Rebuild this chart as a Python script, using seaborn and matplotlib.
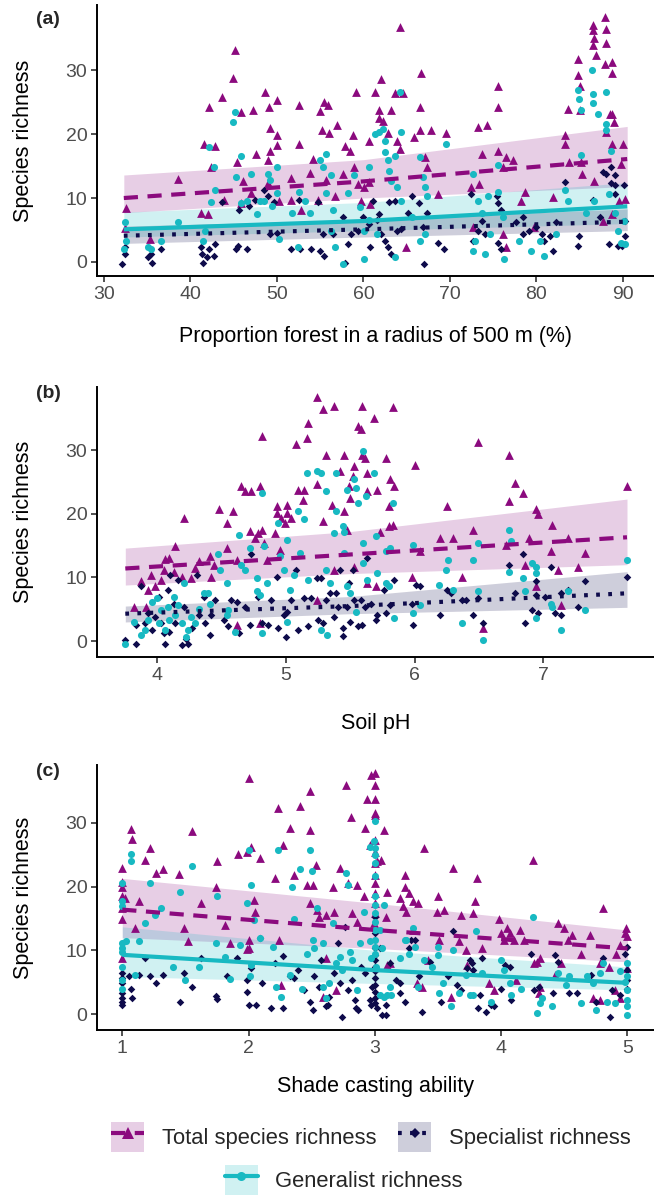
import numpy as np
import matplotlib
matplotlib.use("Agg")
import matplotlib.pyplot as plt
from matplotlib.lines import Line2D
from matplotlib.patches import Patch
from matplotlib.legend_handler import HandlerTuple
import seaborn as sns

# ---------------- data ----------------
# panel a: proportion forest (%) vs richness
a_total = [(32.5, 8.5), (32.4, 5.3), (35.3, 3.6), (38.6, 12.9), (41.6, 18.5), (42.2, 24.3), (42.8, 18.1),
           (42.0, 7.5), (42.4, 14.8), (43.6, 25.8), (44.9, 28.8), (45.2, 33.1), (45.4, 15.6), (45.8, 23.5),
           (46.1, 12.7), (47.2, 23.8), (47.6, 16.9), (48.6, 26.6), (49.2, 21.0), (49.1, 24.3), (49.2, 17.4),
           (49.0, 16.0), (50.0, 25.3), (50.0, 19.9), (50.0, 18.3), (50.3, 9.6), (51.6, 13.2), (52.6, 24.5),
           (52.6, 18.5), (54.2, 16.1), (53.8, 13.9), (55.0, 23.6), (55.2, 20.6), (55.4, 25.0), (55.9, 24.5),
           (56.0, 20.1), (56.9, 21.4), (57.7, 13.8), (57.9, 18.2), (58.4, 17.4), (58.8, 19.8), (59.1, 26.6),
           (58.9, 14.8), (59.4, 12.2), (60.6, 19.0), (60.6, 12.5), (61.3, 26.6), (61.8, 23.8), (62.0, 28.7),
           (61.8, 22.5), (62.3, 22.1), (62.8, 20.1), (63.2, 23.8), (63.7, 26.4), (64.2, 36.8), (63.9, 19.0),
           (64.2, 17.7), (64.6, 26.4), (64.9, 2.3), (65.9, 19.5), (66.5, 24.2), (66.7, 29.6), (66.5, 20.6),
           (67.1, 16.4), (67.4, 14.8), (67.8, 20.6), (68.6, 10.6), (69.5, 20.1), (73.2, 21.1), (73.7, 16.9),
           (73.4, 12.2), (74.3, 21.4), (72.4, 11.7), (72.7, 5.4), (75.6, 27.6), (75.6, 24.2), (75.6, 17.4),
           (76.5, 16.4), (77.3, 15.9), (76.5, 2.3), (76.1, 4.3), (78.7, 10.9), (78.2, 9.6), (79.7, 5.4),
           (81.9, 10.1), (83.3, 19.8), (83.3, 18.5), (83.6, 24.0), (83.8, 15.6), (84.8, 31.8), (84.8, 29.2),
           (85.0, 27.6), (85.0, 23.7), (85.2, 15.6), (85.3, 13.8), (86.5, 37.1), (86.5, 36.3), (86.7, 35.0),
           (86.6, 34.0), (86.9, 32.3), (87.9, 38.4), (88.0, 36.5), (88.0, 34.3), (87.9, 31.0), (88.8, 31.3),
           (88.8, 29.5), (88.8, 23.2), (88.5, 23.2), (89.0, 21.9), (88.8, 18.5), (90.0, 18.5), (88.1, 20.4),
           (89.8, 15.4), (86.7, 12.7), (89.6, 9.6), (90.3, 9.9), (87.7, 6.4), (88.7, 7.5), (76.1, 14.8),
           (59.7, 9.6), (60.8, 9.0), (60.1, 11.7), (55.7, 12.8), (56.7, 10.3), (54.8, 9.7), (52.8, 8.1),
           (51.6, 9.7), (49.0, 12.4), (47.0, 10.8), (45.9, 9.2), (43.9, 9.7), (41.2, 7.6)]
a_generalist = [(32.4, 6.2), (32.5, 3.3), (32.3, 2.0), (35.1, 2.3), (35.4, 2.0), (36.6, 3.3), (38.6, 6.2),
                (41.7, 4.9), (41.5, 3.3), (42.2, 18.0), (42.7, 14.9), (42.9, 11.2), (42.4, 9.4), (45.1, 23.5),
                (44.9, 21.9), (45.8, 16.6), (45.3, 13.3), (45.8, 9.2), (46.5, 9.5), (47.0, 13.8), (47.7, 7.5),
                (48.5, 9.5), (49.0, 13.8), (49.2, 12.8), (50.0, 14.9), (49.4, 8.8), (50.0, 10.8), (50.3, 3.6),
                (51.8, 7.6), (52.6, 10.9), (53.8, 7.6), (52.4, 2.3), (55.0, 15.9), (55.3, 14.9), (55.7, 16.9),
                (56.2, 13.6), (55.7, 10.8), (56.5, 8.1), (56.2, 4.9), (56.7, 2.3), (57.7, -0.4), (58.2, 10.8),
                (58.9, 13.6), (59.6, 8.6), (60.1, 0.4), (60.6, 14.9), (61.3, 20.0), (61.8, 20.3), (62.3, 20.8),
                (62.5, 17.2), (62.5, 19.0), (62.8, 15.9), (63.0, 14.3), (63.2, 12.7), (63.7, 16.6), (64.2, 26.6),
                (64.3, 20.3), (63.7, 0.7), (63.9, 11.7), (64.4, 9.6), (65.6, 7.0), (66.6, 16.4), (66.9, 13.3),
                (67.1, 11.7), (67.4, 10.3), (66.6, 3.3), (67.1, 4.3), (69.5, 18.5), (72.7, 13.8), (73.2, 9.6),
                (72.7, 1.7), (72.9, 3.3), (73.7, 7.6), (74.4, 10.3), (74.1, 1.2), (74.6, 4.3), (75.6, 15.1),
                (75.6, 10.9), (76.1, 7.1), (76.3, 0.4), (78.0, 3.3), (79.4, 1.7), (80.4, 3.3), (80.9, 0.9),
                (82.3, 4.3), (83.3, 11.2), (83.6, 9.6), (84.8, 26.9), (84.9, 25.5), (85.2, 23.8), (85.2, 16.7),
                (86.4, 30.0), (86.5, 26.3), (86.5, 24.9), (87.1, 23.2), (88.1, 26.6), (88.1, 21.6), (88.1, 20.6),
                (88.6, 17.4), (88.4, 10.6), (89.1, 7.6), (89.4, 4.9), (89.8, 3.0), (90.3, 2.8), (90.1, 6.4),
                (86.7, 9.5), (85.7, 7.6), (48.0, 9.5), (53.3, 9.5), (60.6, 6.5), (61.6, 4.3), (60.1, 4.9)]
a_specialist = [(32.1, -0.4), (32.4, 1.2), (32.4, 2.3), (35.4, 1.2), (35.6, -0.1), (35.1, 0.7), (36.6, 2.0),
                (41.2, 2.3), (41.3, 1.2), (41.5, -0.1), (41.9, 0.7), (42.2, 2.0), (42.9, 2.8), (42.7, 1.0),
                (43.6, 9.4), (45.3, 2.0), (45.5, 2.5), (46.5, 2.0), (45.6, 8.1), (46.8, 8.8), (47.5, 9.7),
                (48.5, 11.3), (49.0, 10.3), (49.2, 4.3), (49.7, 9.4), (50.0, 4.6), (51.6, 2.0), (52.6, 9.7),
                (52.7, 2.0), (54.0, 2.0), (54.8, 9.4), (55.0, 1.7), (55.5, 1.0), (55.3, 4.3), (56.5, 4.3),
                (58.2, 2.8), (58.6, 4.3), (57.9, -0.1), (57.7, 7.0), (59.4, 4.9), (59.9, 7.0), (60.6, 6.0),
                (60.8, 2.3), (61.1, 9.6), (61.6, 6.5), (61.8, 7.5), (62.0, 4.3), (62.5, 3.3), (62.8, 2.3),
                (63.0, 9.4), (63.2, 1.2), (63.7, 9.6), (63.9, 4.9), (64.4, 5.2), (65.1, 7.6), (65.6, 10.3),
                (66.4, 9.2), (66.9, 5.5), (67.0, -0.4), (67.4, 7.6), (68.6, 3.0), (69.3, 2.0), (72.4, 10.6),
                (72.7, 3.3), (73.2, 4.9), (73.7, 6.4), (74.1, 4.3), (75.4, 10.3), (75.6, 9.2), (75.9, 8.1),
                (75.6, 3.0), (75.9, 2.0), (77.7, 6.2), (78.5, 7.0), (79.2, 4.9), (79.9, 5.4), (80.7, 4.3),
                (80.9, 3.3), (81.9, 1.7), (81.6, 4.0), (82.3, 6.2), (83.3, 12.5), (84.9, 4.0), (84.8, 2.5),
                (86.5, 9.7), (87.3, 7.1), (87.7, 14.0), (88.1, 13.8), (88.6, 14.9), (89.1, 13.6), (88.6, 12.3),
                (89.1, 12.1), (89.1, 10.6), (90.1, 12.1), (90.3, 6.4), (90.2, 4.0), (88.4, 2.8), (89.4, 2.5),
                (89.9, 2.5), (78.5, 4.3)]

# panel b: soil pH vs richness
b_total = [(3.82, 5.4), (3.87, 9.4), (3.91, 5.4), (3.93, 8.0), (3.98, 8.6), (3.95, 10.4), (4.03, 9.6),
           (4.05, 11.2), (4.06, 12.9), (4.09, 13.0), (4.14, 14.9), (4.13, 10.9), (4.19, 10.1), (4.21, 19.3),
           (4.26, 9.9), (4.29, 11.5), (4.32, 12.5), (4.41, 13.3), (4.42, 10.1), (4.44, 12.0), (4.48, 20.7),
           (4.54, 18.5), (4.54, 14.6), (4.59, 20.4), (4.62, 12.8), (4.65, 24.3), (4.68, 23.5), (4.72, 17.3),
           (4.73, 23.5), (4.76, 16.2), (4.78, 17.0), (4.80, 24.3), (4.81, 32.2), (4.81, 17.5), (4.83, 15.4),
           (4.85, 12.8), (4.93, 21.2), (4.93, 20.1), (4.96, 19.3), (4.99, 18.5), (5.01, 21.4), (5.01, 20.1),
           (4.91, 17.0), (4.95, 14.3), (5.04, 19.3), (5.08, 30.9), (5.09, 23.8), (5.13, 22.2), (5.14, 23.8),
           (5.16, 31.9), (5.17, 34.3), (5.24, 38.3), (5.24, 24.6), (5.29, 36.4), (5.31, 29.3), (5.29, 18.8),
           (5.36, 21.4), (5.37, 36.9), (5.42, 26.7), (5.45, 29.3), (5.45, 20.4), (5.47, 17.5), (5.49, 24.3),
           (5.50, 22.5), (5.52, 25.9), (5.53, 27.5), (5.56, 33.8), (5.58, 33.3), (5.59, 36.9), (5.59, 29.3),
           (5.61, 28.8), (5.63, 23.5), (5.63, 26.4), (5.68, 35.1), (5.71, 23.8), (5.73, 17.2), (5.78, 28.8),
           (5.81, 25.4), (5.83, 36.7), (5.80, 21.2), (5.83, 18.3), (5.80, 18.0), (5.84, 24.3), (5.98, 10.1),
           (6.00, 27.7), (6.04, 14.1), (6.20, 16.2), (6.25, 21.2), (6.30, 16.2), (6.37, 10.1), (6.45, 17.5),
           (6.49, 31.2), (6.53, 2.0), (6.73, 22.0), (6.73, 29.3), (6.78, 24.9), (6.84, 23.3), (6.89, 16.2),
           (6.86, 12.0), (6.94, 20.7), (6.96, 19.9), (6.94, 8.6), (7.07, 18.3), (7.06, 14.1), (7.11, 11.2),
           (7.14, 5.7), (7.19, 16.2), (7.27, 11.7), (7.32, 13.8), (7.65, 24.3), (6.71, 15.1), (5.53, 11.7),
           (5.37, 11.2), (5.24, 6.5), (4.62, 2.5), (4.80, 2.8), (5.63, 9.1), (5.70, 8.6)]
b_generalist = [(3.75, -0.4), (3.82, 3.0), (3.87, 0.9), (3.90, 1.7), (3.93, 3.3), (3.96, 6.2), (4.00, 6.7),
                (4.01, 2.8), (4.03, 4.9), (4.06, 1.7), (4.08, 5.4), (4.09, 3.3), (4.13, 7.0), (4.14, 4.1),
                (4.16, 5.7), (4.19, 2.8), (4.21, 9.1), (4.22, 0.7), (4.24, 1.7), (4.26, 3.8), (4.29, 2.8),
                (4.32, 5.1), (4.36, 7.5), (4.39, 7.5), (4.41, 5.9), (4.47, 13.6), (4.49, 11.2), (4.54, 9.1),
                (4.55, 4.9), (4.54, 4.1), (4.60, 1.5), (4.63, 16.7), (4.65, 12.0), (4.68, 11.2), (4.72, 14.6),
                (4.77, 9.9), (4.77, 7.8), (4.80, 7.3), (4.81, 1.2), (4.81, 23.3), (4.83, 14.9), (4.85, 9.1),
                (4.94, 18.5), (4.95, 13.3), (4.98, 11.2), (5.01, 15.9), (5.01, 3.0), (5.03, 8.0), (5.06, 10.4),
                (5.09, 20.4), (5.11, 13.8), (5.14, 19.1), (5.16, 26.4), (5.17, 9.6), (5.24, 26.7), (5.27, 26.4),
                (5.31, 23.5), (5.31, 11.2), (5.27, 1.7), (5.32, 0.9), (5.34, 9.1), (5.37, 17.0), (5.39, 20.4),
                (5.39, 26.4), (5.44, 18.0), (5.45, 17.2), (5.45, 13.8), (5.47, 23.8), (5.47, 8.6), (5.50, 7.5),
                (5.53, 25.4), (5.54, 24.1), (5.54, 4.6), (5.56, 21.7), (5.60, 29.8), (5.62, 22.8), (5.60, 15.4),
                (5.60, 12.2), (5.63, 9.6), (5.68, 26.4), (5.70, 16.5), (5.71, 10.7), (5.78, 9.1), (5.78, 14.1),
                (5.81, 14.6), (5.83, 21.7), (5.84, 3.6), (5.80, 8.6), (5.99, 15.1), (5.99, 4.4), (6.04, 5.7),
                (6.19, 8.8), (6.24, 11.2), (6.26, 12.8), (6.30, 8.0), (6.37, 2.8), (6.45, 12.8), (6.49, 15.4),
                (6.49, 7.8), (6.53, 0.2), (6.73, 17.5), (6.73, 10.9), (6.75, 15.7), (6.84, 9.9), (6.86, 7.8),
                (6.91, 12.2), (6.94, 11.7), (6.94, 10.7), (6.94, 3.6), (7.06, 5.9), (7.07, 5.4), (7.14, 1.7),
                (7.19, 7.8), (7.32, 4.9), (7.65, 12.8)]
b_specialist = [(3.75, 0.2), (3.83, -0.4), (3.87, 8.6), (3.83, 2.5), (3.90, 2.8), (3.93, 4.4), (3.96, 1.7),
                (3.98, 3.8), (4.01, 7.0), (4.03, 2.8), (4.05, 1.2), (4.06, -0.4), (4.08, 8.0), (4.09, 1.5),
                (4.10, 10.4), (4.13, 5.9), (4.14, 2.8), (4.16, 9.6), (4.19, -0.6), (4.21, 5.4), (4.22, 0.4),
                (4.24, -0.4), (4.27, 2.0), (4.31, 10.4), (4.32, 4.1), (4.36, 7.0), (4.37, 2.8), (4.41, 0.9),
                (4.42, 4.1), (4.45, 6.5), (4.52, 3.3), (4.55, 2.3), (4.57, 6.5), (4.62, 6.2), (4.63, 1.2),
                (4.68, 5.4), (4.72, 2.5), (4.73, 13.6), (4.78, 7.0), (4.81, 2.8), (4.86, 2.5), (4.88, 6.5),
                (4.93, 10.1), (4.94, 2.0), (4.98, 4.1), (5.00, 0.7), (5.01, 4.6), (5.04, 6.5), (5.08, 11.2),
                (5.09, 1.7), (5.14, 6.7), (5.17, 2.3), (5.19, 6.7), (5.24, 9.9), (5.25, 3.3), (5.27, 9.9),
                (5.29, 2.8), (5.31, 6.5), (5.34, 7.5), (5.37, 3.8), (5.39, 7.5), (5.40, 5.4), (5.42, 11.2),
                (5.44, 2.0), (5.44, 0.8), (5.47, 5.4), (5.49, 9.1), (5.50, 3.0), (5.52, 11.2), (5.53, 6.5),
                (5.56, 2.3), (5.58, 6.5), (5.59, 2.5), (5.61, 5.4), (5.63, 13.0), (5.66, 5.9), (5.70, 3.3),
                (5.71, 4.1), (5.76, 8.0), (5.78, 4.4), (5.81, 5.7), (5.84, 9.6), (5.98, 5.9), (5.99, 2.5),
                (6.01, 8.8), (6.04, 8.6), (6.20, 4.1), (6.25, 8.0), (6.28, 7.5), (6.37, 6.5), (6.40, 6.5),
                (6.45, 4.1), (6.49, 6.7), (6.53, 2.8), (6.73, 12.0), (6.78, 7.5), (6.84, 13.6), (6.86, 2.8),
                (6.91, 4.9), (6.94, 7.3), (6.94, 9.4), (6.96, 4.4), (7.01, 7.0), (7.06, 11.7), (7.09, 4.4),
                (7.14, 4.1), (7.19, 8.0), (7.27, 5.4), (7.32, 9.4), (7.65, 10.1), (7.14, 7.5)]

# panel c: shade casting ability vs richness
c_total = [(1.00, 22.9), (1.00, 20.8), (1.00, 20.0), (1.00, 18.5), (1.00, 16.6), (1.00, 15.0), (1.00, 8.8),
           (1.02, 18.2), (1.07, 29.1), (1.08, 27.5), (1.10, 13.5), (1.13, 17.7), (1.18, 24.2), (1.22, 26.1),
           (1.27, 22.1), (1.32, 22.7), (1.45, 22.0), (1.49, 13.5), (1.52, 11.4), (1.55, 28.7), (1.62, 17.4),
           (1.74, 20.0), (1.75, 24.0), (1.81, 14.0), (1.85, 11.2), (1.92, 25.2), (1.99, 25.5), (2.00, 37.1),
           (2.02, 26.3), (2.04, 17.9), (2.05, 16.1), (1.99, 10.2), (2.09, 24.5), (2.21, 21.3), (2.23, 32.4),
           (2.24, 11.6), (2.27, 26.6), (2.33, 29.2), (2.36, 21.9), (2.41, 32.7), (2.46, 20.3), (2.49, 35.0),
           (2.49, 28.9), (2.51, 20.3), (2.53, 23.4), (2.49, 17.4), (2.54, 16.4), (2.56, 15.3), (2.61, 15.6),
           (2.67, 20.0), (2.68, 16.1), (2.72, 22.9), (2.77, 36.0), (2.81, 31.0), (2.79, 20.6), (2.86, 20.3),
           (2.82, 15.8), (2.86, 14.5), (2.91, 18.5), (2.92, 29.2), (2.94, 33.7), (2.96, 26.6), (2.97, 37.6),
           (3.00, 37.8), (3.00, 36.0), (3.00, 33.7), (3.00, 31.6), (3.00, 31.3), (3.00, 27.4), (3.00, 25.5),
           (3.00, 23.7), (3.00, 21.9), (3.00, 20.6), (3.00, 19.0), (3.00, 17.4), (3.00, 15.8), (2.99, 14.3),
           (3.02, 24.0), (3.05, 24.2), (3.07, 28.9), (3.09, 15.3), (3.10, 19.2), (3.10, 7.7), (3.20, 18.2),
           (3.22, 16.9), (3.24, 21.9), (3.24, 20.0), (3.25, 16.1), (3.27, 19.0), (3.30, 17.7), (3.34, 17.4),
           (3.30, 13.2), (3.37, 4.3), (3.39, 26.1), (3.49, 16.1), (3.50, 18.5), (3.51, 11.6), (3.55, 16.4),
           (3.60, 2.7), (3.62, 22.9), (3.67, 11.4), (3.68, 15.6), (3.72, 10.1), (3.73, 7.7), (3.78, 15.8),
           (3.79, 17.7), (3.81, 21.3), (3.85, 10.3), (3.90, 4.8), (3.98, 15.0), (4.00, 12.7), (4.02, 11.6),
           (4.05, 13.5), (4.07, 12.7), (4.10, 11.6), (4.15, 13.2), (4.18, 11.6), (4.25, 24.2), (4.26, 8.0),
           (4.28, 8.2), (4.31, 8.8), (4.31, 4.3), (4.43, 6.1), (4.45, 14.3), (4.50, 13.5), (4.53, 11.6),
           (4.56, 12.4), (4.63, 9.5), (4.70, 12.4), (4.73, 2.5), (4.78, 8.0), (4.81, 16.6), (4.85, 7.4),
           (4.91, 9.5), (4.94, 10.9), (4.98, 12.7), (4.99, 13.5), (5.00, 12.2), (5.00, 7.2), (4.90, 3.8),
           (4.94, 2.5), (4.78, 2.2), (4.47, 8.0), (4.30, 3.3), (4.12, 5.3), (3.94, 3.8), (3.42, 8.5),
           (3.33, 4.8), (2.61, 8.8), (2.59, 2.7), (2.69, 3.8), (2.26, 4.6), (2.00, 11.6), (2.00, 10.3),
           (3.12, 8.0)]
c_generalist = [(1.00, 20.6), (1.00, 17.7), (1.00, 16.9), (1.00, 11.1), (1.00, 10.3), (1.00, 9.8), (1.00, 7.4),
                (1.00, 5.3), (1.00, 4.0), (1.07, 25.2), (1.07, 24.0), (1.03, 11.5), (1.13, 11.4), (1.10, 6.1),
                (1.18, 14.3), (1.22, 20.6), (1.26, 15.6), (1.31, 16.6), (1.40, 7.4), (1.46, 19.2), (1.50, 5.3),
                (1.55, 23.2), (1.61, 7.4), (1.74, 11.1), (1.75, 18.5), (1.81, 9.0), (1.85, 5.5), (1.93, 10.9),
                (1.99, 17.4), (2.00, 25.8), (2.02, 20.3), (2.02, 7.7), (2.01, 5.9), (2.04, 14.8), (2.09, 11.9),
                (2.19, 10.6), (2.22, 4.3), (2.23, 25.8), (2.26, 2.7), (2.33, 6.1), (2.34, 20.0), (2.36, 15.0),
                (2.41, 22.7), (2.42, 4.0), (2.46, 9.5), (2.49, 25.8), (2.50, 22.4), (2.51, 11.6), (2.52, 10.3),
                (2.54, 16.6), (2.59, 11.1), (2.59, 4.3), (2.61, 2.5), (2.64, 4.8), (2.67, 14.3), (2.69, 8.0),
                (2.72, 9.0), (2.74, 6.9), (2.77, 22.1), (2.79, 20.3), (2.80, 9.8), (2.82, 8.5), (2.86, 3.8),
                (2.88, 11.1), (2.91, 16.1), (2.96, 26.3), (2.96, 11.4), (2.97, 8.8), (2.99, 27.1), (3.00, 30.3),
                (3.00, 26.1), (3.00, 25.0), (3.00, 23.7), (3.00, 21.6), (3.00, 18.5), (3.00, 17.1), (3.00, 15.8),
                (3.00, 14.5), (3.00, 13.2), (3.00, 11.6), (3.00, 10.6), (3.00, 9.5), (3.01, 7.4), (3.04, 13.2),
                (3.06, 10.3), (3.07, 17.1), (3.04, 3.0), (3.07, 2.7), (3.10, 3.0), (3.13, 3.0), (3.12, 4.3),
                (3.20, 8.8), (3.24, 11.6), (3.25, 11.6), (3.27, 9.5), (3.30, 13.5), (3.32, 10.6), (3.34, 4.3),
                (3.39, 8.5), (3.45, 7.4), (3.50, 10.6), (3.50, 9.3), (3.51, 3.3), (3.54, 4.8), (3.60, 1.2),
                (3.62, 10.1), (3.67, 3.3), (3.72, 6.1), (3.75, 3.0), (3.78, 3.0), (3.80, 13.0), (3.85, 6.4),
                (3.92, 1.9), (4.00, 8.5), (4.02, 6.9), (4.07, 4.8), (4.08, 3.0), (4.16, 4.0), (4.25, 15.3),
                (4.28, 0.1), (4.31, 1.7), (4.32, 2.5), (4.40, 1.2), (4.45, 6.4), (4.51, 4.6), (4.63, 1.7),
                (4.68, 5.9), (4.73, 4.8), (4.75, 0.6), (4.81, 8.0), (4.84, 1.9), (4.90, 1.7), (4.94, 6.7),
                (4.98, 5.1), (5.00, 8.0), (5.00, 5.9), (5.00, 3.8), (5.00, 2.2), (5.00, 1.2), (5.00, -0.2),
                (4.78, 6.4), (4.54, 5.9)]
c_specialist = [(1.00, 3.3), (1.00, 2.5), (1.00, 1.9), (1.00, 1.4), (1.00, 4.8), (1.00, 6.4), (1.00, 5.6),
                (1.05, 5.9), (1.07, 4.0), (1.08, 2.5), (1.13, 6.1), (1.18, 8.8), (1.22, 5.9), (1.27, 4.8),
                (1.32, 6.1), (1.46, 1.9), (1.49, 6.4), (1.55, 4.3), (1.62, 8.8), (1.74, 2.8), (1.75, 2.3),
                (1.83, 5.9), (1.91, 8.8), (1.99, 5.3), (2.00, 1.4), (1.99, 3.5), (2.02, 7.2), (2.06, 1.4),
                (2.09, 11.9), (2.11, 4.8), (2.18, 0.9), (2.21, 8.0), (2.27, 9.1), (2.27, 0.9), (2.33, 5.9),
                (2.36, 5.6), (2.39, 6.9), (2.44, 3.8), (2.49, 1.9), (2.51, 0.6), (2.52, 5.9), (2.56, 4.3),
                (2.57, 8.5), (2.61, 1.2), (2.63, 1.4), (2.64, 2.7), (2.68, 6.4), (2.72, 4.8), (2.71, 11.1),
                (2.74, -0.4), (2.76, 13.7), (2.79, 3.8), (2.82, 5.3), (2.84, 2.2), (2.85, 0.9), (2.87, 0.6),
                (2.89, 7.4), (2.92, 6.4), (2.96, 2.2), (2.97, 1.4), (2.98, 4.3), (3.00, 15.3), (3.00, 12.7),
                (3.00, 10.3), (3.00, 9.3), (3.00, 8.5), (3.00, 7.4), (3.00, 6.7), (3.00, 5.6), (3.00, 4.6),
                (3.00, 3.5), (3.00, 2.5), (3.00, 1.7), (3.02, 0.9), (3.04, 10.3), (3.06, -0.2), (3.09, -0.2),
                (3.09, 1.4), (3.12, 8.0), (3.17, 5.3), (3.20, 4.8), (3.20, 3.3), (3.24, 1.9), (3.27, 10.3),
                (3.29, 11.6), (3.32, 11.6), (3.35, 5.9), (3.37, 0.4), (3.44, 8.2), (3.52, 1.9), (3.58, 5.9),
                (3.62, 13.0), (3.65, 4.6), (3.68, 3.8), (3.73, 7.2), (3.75, 8.5), (3.77, 8.0), (3.78, 6.9),
                (3.82, 0.9), (3.83, 3.0), (3.85, 8.8), (3.88, 0.4), (3.92, 1.4), (3.94, 1.2), (4.00, 4.0),
                (4.03, 7.7), (4.07, 7.4), (4.08, 2.2), (4.24, 9.5), (4.26, 3.8), (4.30, 4.3), (4.41, 3.3),
                (4.43, 9.3), (4.45, 8.2), (4.54, 3.3), (4.60, 3.3), (4.71, 6.1), (4.75, 1.9), (4.81, 8.8),
                (4.86, -0.4), (4.88, 3.8), (4.94, 3.0), (4.98, 9.5), (5.00, 10.6), (5.00, 6.9), (5.00, 5.3),
                (5.00, 4.0)]

# fitted model curves with confidence bands (fit, lower, upper)
a_fit_x = [32.3, 60.0, 90.5]
a_total_fit = ([10.0, 12.6, 16.1], [7.7, 10.0, 11.8], [13.6, 16.0, 21.2])
a_gen_fit = ([5.1, 6.4, 8.7], [3.9, 4.9, 6.0], [7.8, 9.3, 12.4])
a_spec_fit = ([4.1, 5.1, 6.3], [2.9, 3.9, 4.9], [5.6, 6.6, 8.3])

b_fit_x = [3.75, 5.5, 7.65]
b_total_fit = ([11.4, 13.6, 16.3], [8.8, 10.6, 12.0], [14.6, 17.2, 22.3])
b_spec_fit = ([4.3, 5.5, 7.5], [3.0, 4.3, 5.3], [5.5, 7.0, 10.9])

c_fit_x = [1.0, 3.0, 5.0]
c_total_fit = ([16.4, 13.2, 10.3], [12.0, 10.3, 8.2], [21.3, 17.4, 13.2])
c_gen_fit = ([9.3, 6.9, 4.9], [5.9, 4.8, 3.8], [13.7, 10.0, 7.4])

x_labels = ["Proportion forest in a radius of 500 m (%)", "Soil pH", "Shade casting ability"]
panel_tags = ["(a)", "(b)", "(c)"]
group_names = ["Total species richness", "Specialist richness", "Generalist richness"]

# ---------------- styling ----------------
PURPLE = "#8B0A7E"
NAVY = "#0E0B4B"
CYAN = "#18B9C2"
LW = 3.0
DASH_TOTAL = (3.4, 2.3)
DASH_SPEC = (0.9, 2.0)

sns.set_style("ticks")
plt.rcParams["font.family"] = ["Liberation Sans", "DejaVu Sans"]

fig = plt.figure(figsize=(6.54, 11.96), dpi=100)

rects = [
    [97 / 654, 1 - 276 / 1196, 557 / 654, 271 / 1196],
    [97 / 654, 1 - 657 / 1196, 557 / 654, 270 / 1196],
    [97 / 654, 1 - 1030 / 1196, 557 / 654, 265 / 1196],
]
xlims = [(29.2, 93.6), (3.53, 7.86), (0.80, 5.21)]
ylims = [(-2.2, 40.2), (-2.5, 39.9), (-2.5, 39.1)]
xticks = [[30, 40, 50, 60, 70, 80, 90], [4, 5, 6, 7], [1, 2, 3, 4, 5]]
xlabel_pad = [17, 21, 14]
tag_y = [19, 394, 772]


def draw_points(ax, pts, marker, color, size):
    arr = np.array(pts)
    sns.scatterplot(x=arr[:, 0], y=arr[:, 1], ax=ax, marker=marker, color=color,
                    s=size, linewidth=0, zorder=3, legend=False)


panels = [
    (a_total, a_specialist, a_generalist, a_fit_x,
     [(a_total_fit, PURPLE, DASH_TOTAL), (a_gen_fit, CYAN, None), (a_spec_fit, NAVY, DASH_SPEC)]),
    (b_total, b_specialist, b_generalist, b_fit_x,
     [(b_total_fit, PURPLE, DASH_TOTAL), (b_spec_fit, NAVY, DASH_SPEC)]),
    (c_total, c_specialist, c_generalist, c_fit_x,
     [(c_total_fit, PURPLE, DASH_TOTAL), (c_gen_fit, CYAN, None)]),
]

for i, (tot, spec, gen, fx, fits) in enumerate(panels):
    ax = fig.add_axes(rects[i])
    # confidence bands underneath the points
    for fit, col, dsh in fits:
        mid, lo, hi = fit
        ax.fill_between(fx, lo, hi, color=col, alpha=0.2, linewidth=0, zorder=1)
    draw_points(ax, tot, "^", PURPLE, 40)
    draw_points(ax, spec, "D", NAVY, 15)
    draw_points(ax, gen, "o", CYAN, 26)
    for fit, col, dsh in fits:
        line, = ax.plot(fx, fit[0], color=col, lw=LW, zorder=4, solid_capstyle="butt")
        if dsh is not None:
            line.set_dashes(dsh)
            line.set_dash_capstyle("butt")
    ax.set_xlim(*xlims[i])
    ax.set_ylim(*ylims[i])
    ax.set_xticks(xticks[i])
    ax.set_yticks([0, 10, 20, 30])
    sns.despine(ax=ax)
    for sp in ("left", "bottom"):
        ax.spines[sp].set_linewidth(1.4)
        ax.spines[sp].set_color("black")
    ax.tick_params(axis="both", length=4, width=1.2, color="#333333",
                   labelsize=14, labelcolor="#4D4D4D", pad=3)
    ax.set_ylabel("Species richness", fontsize=15.5, color="black")
    ax.yaxis.set_label_coords(-0.113, 0.5)
    ax.set_xlabel(x_labels[i], fontsize=15.5, color="black", labelpad=xlabel_pad[i])
    fig.text(36 / 654, 1 - tag_y[i] / 1196, panel_tags[i], fontsize=14,
             fontweight="bold", va="center", ha="left")

# ---------------- legend ----------------
def make_handle(color, dashes, marker, msize):
    box = Patch(facecolor=color, alpha=0.2, edgecolor="none")
    ln = Line2D([], [], color=color, lw=LW)
    if dashes is not None:
        ln.set_dashes(dashes)
    pt = Line2D([], [], color=color, marker=marker, ls="none", markersize=msize, markeredgewidth=0)
    return (box, ln, pt)


h_total = make_handle(PURPLE, DASH_TOTAL, "^", 9)
h_spec = make_handle(NAVY, DASH_SPEC, "D", 5)
h_gen = make_handle(CYAN, None, "o", 6.5)

leg_kw = dict(frameon=False, fontsize=15.8, handlelength=1.5, handleheight=1.7,
              handletextpad=0.8, handler_map={tuple: HandlerTuple(ndivide=1)}, loc="center")
fig.legend([h_total, h_spec], group_names[:2], ncol=2, columnspacing=1.0,
           bbox_to_anchor=(371 / 654, 1 - 1137 / 1196), **leg_kw)
fig.legend([h_gen], group_names[2:], bbox_to_anchor=(344 / 654, 1 - 1180 / 1196), **leg_kw)

fig.savefig("out.png", dpi=100)
